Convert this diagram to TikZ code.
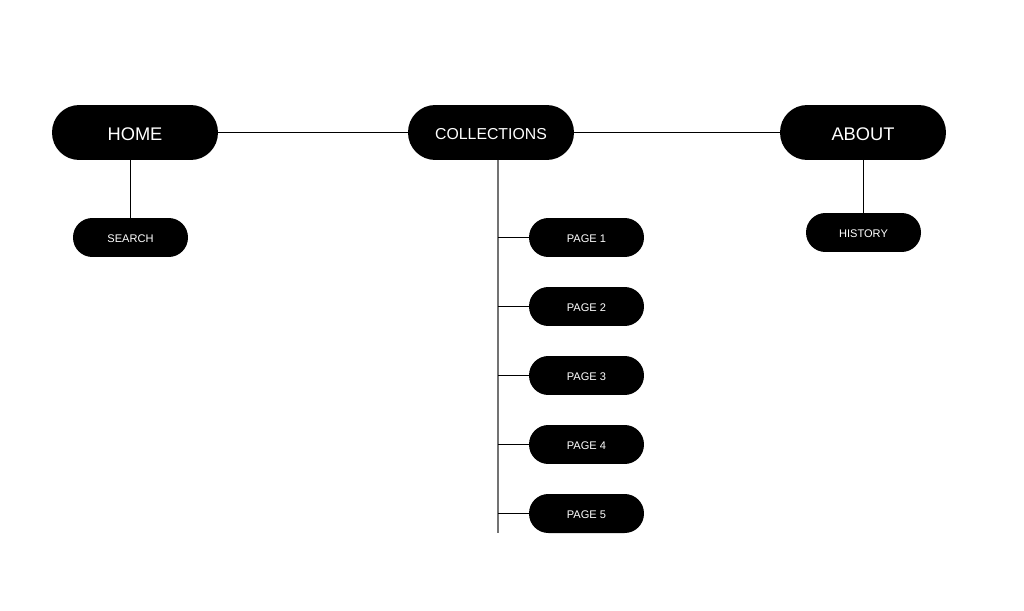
\documentclass[tikz,border=0pt]{standalone}
\usepackage{fontspec}
\setmainfont{Liberation Sans}
\usetikzlibrary{calc}

\begin{document}
\begin{tikzpicture}[x=0.02cm, y=-0.02cm,
  link/.style={black, line width=0.6pt},
  trunkline/.style={black!55, line width=1.1pt},
  topbox/.style={fill=black, text=white, rectangle, rounded corners=15.5pt,
    minimum width=3.32cm, minimum height=1.1cm, inner sep=0pt, text depth=0pt},
  subbox/.style={fill=black, text=white, rectangle, rounded corners=11pt,
    minimum width=2.3cm, minimum height=0.78cm, inner sep=0pt, text depth=0pt,
    text height=5.6pt, font=\fontsize{6.3}{7}\selectfont}]
  \useasboundingbox[fill=white] (0,0) rectangle (1024,611);
  % top level
  \node[topbox, text height=9.2pt, font=\fontsize{10.4}{12}\selectfont] (home) at (135,132.5) {HOME};
  \node[topbox, text height=8pt, font=\fontsize{9}{11}\selectfont] (collections) at (491,132.5) {COLLECTIONS};
  \node[topbox, text height=9.2pt, font=\fontsize{10.4}{12}\selectfont] (about) at (863,132.5) {ABOUT};
  % second level
  \node[subbox] (search) at (130.5,237.5) {SEARCH};
  \node[subbox] (history) at (863.5,232.5) {HISTORY};
  \foreach \i in {1,...,5}
    \node[subbox] (page\i) at (586.5,{237.5+69*(\i-1)}) {PAGE \i};
  \coordinate (trunk) at (498,160);
  \coordinate (trunkend) at (498,533);
  % connectors
  \draw[link] (home.east) -- (collections.west);
  \draw[link] (collections.east) -- (about.west);
  \draw[link] (search.north) -- (search.north |- home.south);
  \draw[link] (history.north) -- (history.north |- about.south);
  \draw[trunkline] (trunk) -- (trunkend);
  \foreach \i in {1,...,5}
    \draw[link] (page\i.west) -- (page\i.west -| trunk);
\end{tikzpicture}
\end{document}
